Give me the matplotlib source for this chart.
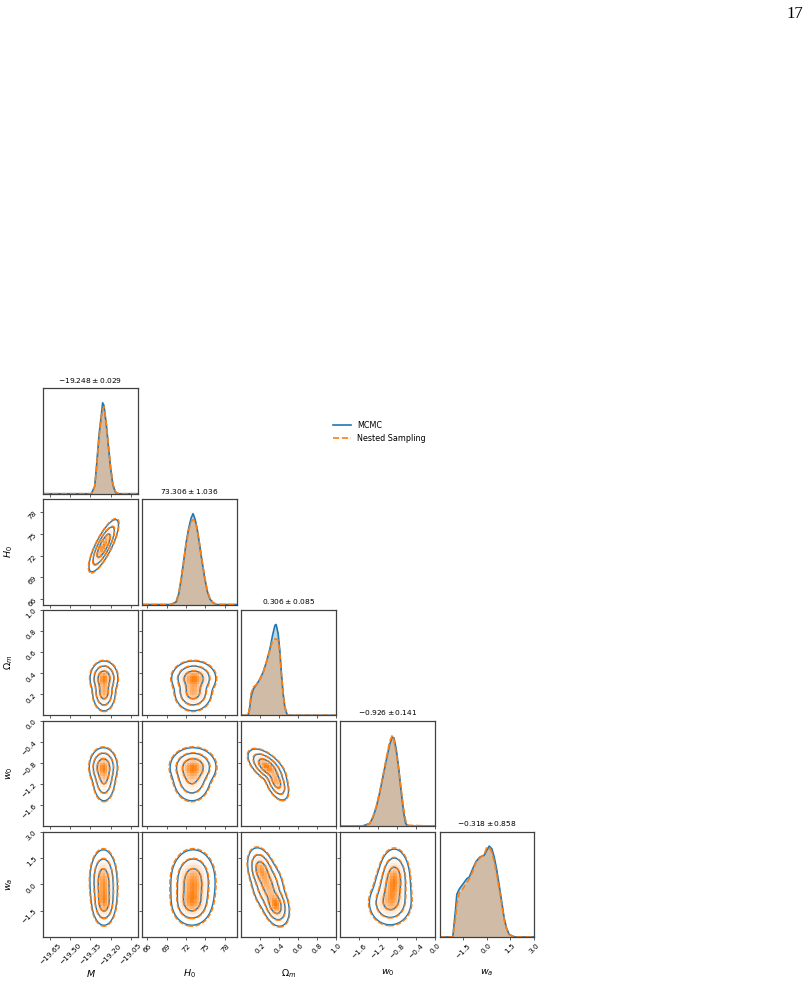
import numpy as np
import matplotlib
matplotlib.use("Agg")
import matplotlib.pyplot as plt
from matplotlib.colors import LinearSegmentedColormap
from matplotlib.lines import Line2D

# parameter names, axis ranges and ticks
names = ["$M$", "$H_0$", r"$\Omega_m$", "$w_0$", "$w_a$"]
limits = [(-19.70, -19.00), (65.25, 79.85), (0.0, 1.0), (-2.0, 0.0), (-3.0, 3.0)]
ticks = [[-19.65, -19.50, -19.35, -19.20, -19.05],
         [66, 69, 72, 75, 78],
         [0.2, 0.4, 0.6, 0.8, 1.0],
         [-1.6, -1.2, -0.8, -0.4, 0.0],
         [-1.5, 0.0, 1.5, 3.0]]
tick_labels = [["\u221219.65", "\u221219.50", "\u221219.35", "\u221219.20", "\u221219.05"],
               ["66", "69", "72", "75", "78"],
               ["0.2", "0.4", "0.6", "0.8", "1.0"],
               ["\u22121.6", "\u22121.2", "\u22120.8", "\u22120.4", "0.0"],
               ["\u22121.5", "0.0", "1.5", "3.0"]]
titles = [r"$-19.248 \pm 0.029$", r"$73.306 \pm 1.036$", r"$0.306 \pm 0.085$",
          r"$-0.926 \pm 0.141$", r"$-0.318 \pm 0.858$"]

# 1D marginals (x, relative height)
M_x = [-19.70, -19.36, -19.344, -19.319, -19.307, -19.287, -19.270, -19.260, -19.250,
       -19.232, -19.215, -19.200, -19.183, -19.163, -19.14, -19.00]
M_mcmc = [0, 0, 0, 0.08, 0.27, 0.64, 0.86, 1.0, 0.97, 0.75, 0.49, 0.27, 0.09, 0.01, 0, 0]
M_ns = [0, 0, 0, 0.08, 0.26, 0.62, 0.84, 0.93, 0.96, 0.76, 0.50, 0.28, 0.10, 0.02, 0, 0]

H0_x = [65.25, 69.6, 69.97, 70.49, 70.89, 71.26, 71.61, 72.02, 72.42, 72.79, 73.09, 73.40,
        73.71, 74.06, 74.47, 74.87, 75.28, 75.70, 76.20, 76.7, 79.85]
H0_mcmc = [0, 0, 0.01, 0.03, 0.12, 0.28, 0.46, 0.68, 0.84, 0.95, 1.0, 0.94, 0.84, 0.68,
           0.48, 0.30, 0.15, 0.06, 0.02, 0, 0]
H0_ns = [0, 0, 0.01, 0.04, 0.13, 0.29, 0.46, 0.67, 0.82, 0.91, 0.935, 0.92, 0.83, 0.68,
         0.49, 0.31, 0.16, 0.07, 0.02, 0, 0]

Om_x = [0.0, 0.07, 0.085, 0.102, 0.126, 0.161, 0.197, 0.232, 0.266, 0.302, 0.33, 0.355,
        0.368, 0.389, 0.407, 0.424, 0.442, 0.46, 0.484, 0.50, 1.0]
Om_mcmc = [0, 0, 0.06, 0.20, 0.29, 0.34, 0.40, 0.48, 0.59, 0.73, 0.88, 0.99, 1.0, 0.90,
           0.71, 0.46, 0.24, 0.09, 0.01, 0, 0]
Om_ns = [0, 0, 0.08, 0.24, 0.31, 0.34, 0.40, 0.48, 0.59, 0.72, 0.82, 0.84, 0.84, 0.83,
         0.68, 0.45, 0.24, 0.09, 0.01, 0, 0]

w0_x = [-2.0, -1.55, -1.485, -1.379, -1.309, -1.24, -1.168, -1.098, -1.028, -0.957,
        -0.902, -0.866, -0.817, -0.767, -0.712, -0.661, -0.619, -0.57, 0.0]
w0_mcmc = [0, 0, 0.01, 0.03, 0.10, 0.21, 0.37, 0.55, 0.73, 0.90, 0.98, 0.97, 0.84, 0.64,
           0.37, 0.15, 0.03, 0, 0]
w0_ns = [0, 0, 0.01, 0.03, 0.11, 0.22, 0.38, 0.56, 0.75, 0.93, 1.0, 0.95, 0.80, 0.62,
         0.40, 0.19, 0.06, 0.01, 0]

wa_x = [-3.0, -2.2, -2.154, -1.989, -1.90, -1.737, -1.52, -1.27, -1.105, -0.89, -0.682,
        -0.43, -0.157, -0.006, 0.158, 0.328, 0.474, 0.625, 0.79, 0.96, 1.105, 1.257,
        1.42, 1.636, 1.8, 3.0]
wa_mcmc = [0, 0, 0, 0.29, 0.47, 0.53, 0.58, 0.64, 0.66, 0.75, 0.83, 0.88, 0.90, 0.95,
           1.0, 0.97, 0.88, 0.75, 0.57, 0.38, 0.21, 0.10, 0.03, 0.01, 0, 0]
wa_ns = [0, 0, 0, 0.20, 0.36, 0.49, 0.53, 0.60, 0.64, 0.72, 0.82, 0.87, 0.91, 0.98,
         0.99, 0.93, 0.83, 0.70, 0.53, 0.35, 0.19, 0.09, 0.03, 0.01, 0, 0]

marg_x = [M_x, H0_x, Om_x, w0_x, wa_x]
marg_mcmc = [M_mcmc, H0_mcmc, Om_mcmc, w0_mcmc, wa_mcmc]
marg_ns = [M_ns, H0_ns, Om_ns, w0_ns, wa_ns]

# 2D posteriors read off the lower panels as blobs:
# weight, x centre, y centre, x width, y width, correlation
blob_H0_M = [[1.0, -19.252, 73.4, 0.032, 1.06, 0.8]]
blob_Om_M = [[0.6, -19.25, 0.35, 0.031, 0.05, 0.0], [0.4, -19.25, 0.22, 0.026, 0.055, 0.0]]
blob_Om_H0 = [[0.6, 73.2, 0.35, 1.03, 0.05, 0.0], [0.4, 73.1, 0.22, 0.88, 0.055, 0.0]]
blob_w0_M = [[0.65, -19.255, -0.88, 0.031, 0.11, 0.0], [0.35, -19.25, -1.08, 0.026, 0.14, 0.0]]
blob_w0_H0 = [[0.65, 73.1, -0.88, 1.06, 0.11, 0.0], [0.35, 72.9, -1.08, 0.9, 0.14, 0.0]]
blob_w0_Om = [[0.65, 0.27, -0.87, 0.06, 0.10, -0.6], [0.35, 0.37, -1.15, 0.04, 0.11, -0.5]]
blob_wa_M = [[0.35, -19.255, 0.4, 0.031, 0.5, 0.0], [0.35, -19.25, -0.35, 0.031, 0.5, 0.0],
             [0.30, -19.25, -1.05, 0.027, 0.4, 0.0]]
blob_wa_H0 = [[0.35, 73.1, 0.4, 1.05, 0.5, 0.0], [0.35, 73.05, -0.35, 1.05, 0.5, 0.0],
              [0.30, 72.9, -1.05, 0.95, 0.4, 0.0]]
blob_wa_Om = [[0.30, 0.21, 0.8, 0.045, 0.4, -0.3], [0.35, 0.28, -0.1, 0.055, 0.5, -0.3],
              [0.35, 0.36, -1.15, 0.045, 0.38, -0.3]]
blob_wa_w0 = [[0.35, -0.86, 0.4, 0.10, 0.5, 0.0], [0.35, -0.90, -0.35, 0.12, 0.5, 0.0],
              [0.30, -0.95, -1.05, 0.14, 0.4, 0.0]]

blobs = {(1, 0): blob_H0_M, (2, 0): blob_Om_M, (2, 1): blob_Om_H0,
         (3, 0): blob_w0_M, (3, 1): blob_w0_H0, (3, 2): blob_w0_Om,
         (4, 0): blob_wa_M, (4, 1): blob_wa_H0, (4, 2): blob_wa_Om, (4, 3): blob_wa_w0}

blue = "#1f77b4"
orange = "#ff7f0e"
mass = [0.68, 0.95, 0.997]
density_cmap = LinearSegmentedColormap.from_list("density_cmap", [orange, (1, 1, 1, 0)])


def blob_density(comps, xl, yl, n, scale=1.0):
    xs = np.linspace(xl[0], xl[1], n)
    ys = np.linspace(yl[0], yl[1], n)
    X, Y = np.meshgrid(xs, ys)
    Z = np.zeros_like(X)
    for w, mx, my, sx, sy, r in comps:
        sx, sy = sx * scale, sy * scale
        dx = (X - mx) / sx
        dy = (Y - my) / sy
        q = (dx * dx - 2 * r * dx * dy + dy * dy) / (1 - r * r)
        Z += w * np.exp(-0.5 * q) / (2 * np.pi * sx * sy * np.sqrt(1 - r * r))
    return xs, ys, Z


def mass_levels(Z):
    flat = np.sort(Z.ravel())[::-1]
    cum = np.cumsum(flat)
    cum /= cum[-1]
    return sorted(flat[np.searchsorted(cum, m)] for m in mass)


fig, axes = plt.subplots(5, 5, figsize=(8.09, 9.83), dpi=100)
fig.subplots_adjust(left=0.0535, right=0.660, top=0.605, bottom=0.0468, wspace=0.049, hspace=0.051)

n = len(names)
for i in range(n):
    for j in range(n):
        ax = axes[i, j]
        if j > i:
            ax.axis("off")
            continue
        for s in ax.spines.values():
            s.set_color("#404040")
            s.set_linewidth(0.9)
        ax.tick_params(labelsize=5.3, length=2.5, width=0.6, pad=1.5, color="#404040")
        ax.set_xlim(limits[j])
        ax.set_xticks(ticks[j])
        if i == n - 1:
            ax.set_xticklabels(tick_labels[j])
            ax.tick_params(axis="x", labelrotation=45)
            ax.set_xlabel(names[j], fontsize=6.8)
            ax.xaxis.set_label_coords(0.5, -0.29)
        else:
            ax.set_xticklabels([])

        if i == j:
            x = marg_x[i]
            top = max(max(marg_mcmc[i]), max(marg_ns[i]))
            ax.fill_between(x, marg_mcmc[i], color=blue, alpha=0.3, lw=0)
            ax.plot(x, marg_mcmc[i], color=blue, lw=1.2)
            ax.fill_between(x, marg_ns[i], color=orange, alpha=0.3, lw=0)
            ax.plot(x, marg_ns[i], color=orange, lw=1.2, ls="--")
            ax.set_ylim(0, 1.16 * top)
            ax.set_yticks([])
            ax.set_title(titles[i], fontsize=5.4, pad=4)
            continue

        ax.set_ylim(limits[i])
        ax.set_yticks(ticks[i])
        if j == 0:
            ax.set_yticklabels(tick_labels[i])
            ax.tick_params(axis="y", labelrotation=45)
            ax.set_ylabel(names[i], fontsize=6.8)
            ax.yaxis.set_label_coords(-0.30, 0.5)
        else:
            ax.set_yticklabels([])

        comps = blobs[(i, j)]
        # shading like corner's density plot, softened
        xc, yc, Zc = blob_density(comps, limits[j], limits[i], 40)
        shade = 1 - (Zc / Zc.max()) ** 0.6
        ax.pcolormesh(xc, yc, shade, cmap=density_cmap, vmin=0, vmax=1, shading="auto", zorder=1)
        xs, ys, Z = blob_density(comps, limits[j], limits[i], 160)
        ax.contour(xs, ys, Z, mass_levels(Z), colors=blue, linewidths=1.0, zorder=2)
        xs, ys, Z2 = blob_density(comps, limits[j], limits[i], 160, scale=1.045)
        ax.contour(xs, ys, Z2, mass_levels(Z2), colors=orange, linewidths=1.0,
                   linestyles="--", zorder=3)

handles = [Line2D([], [], color=blue, lw=1.2),
           Line2D([], [], color=orange, lw=1.2, ls="--")]
fig.legend(handles, ["MCMC", "Nested Sampling"], loc="upper left",
           bbox_to_anchor=(0.4027, 0.579), frameon=False, fontsize=5.8, handlelength=2.2)

fig.text(0.9923, 1 - 18.3 / 983, "17", ha="right", va="baseline",
         family="Liberation Serif", fontsize=12)

fig.savefig("out.png", dpi=100)
